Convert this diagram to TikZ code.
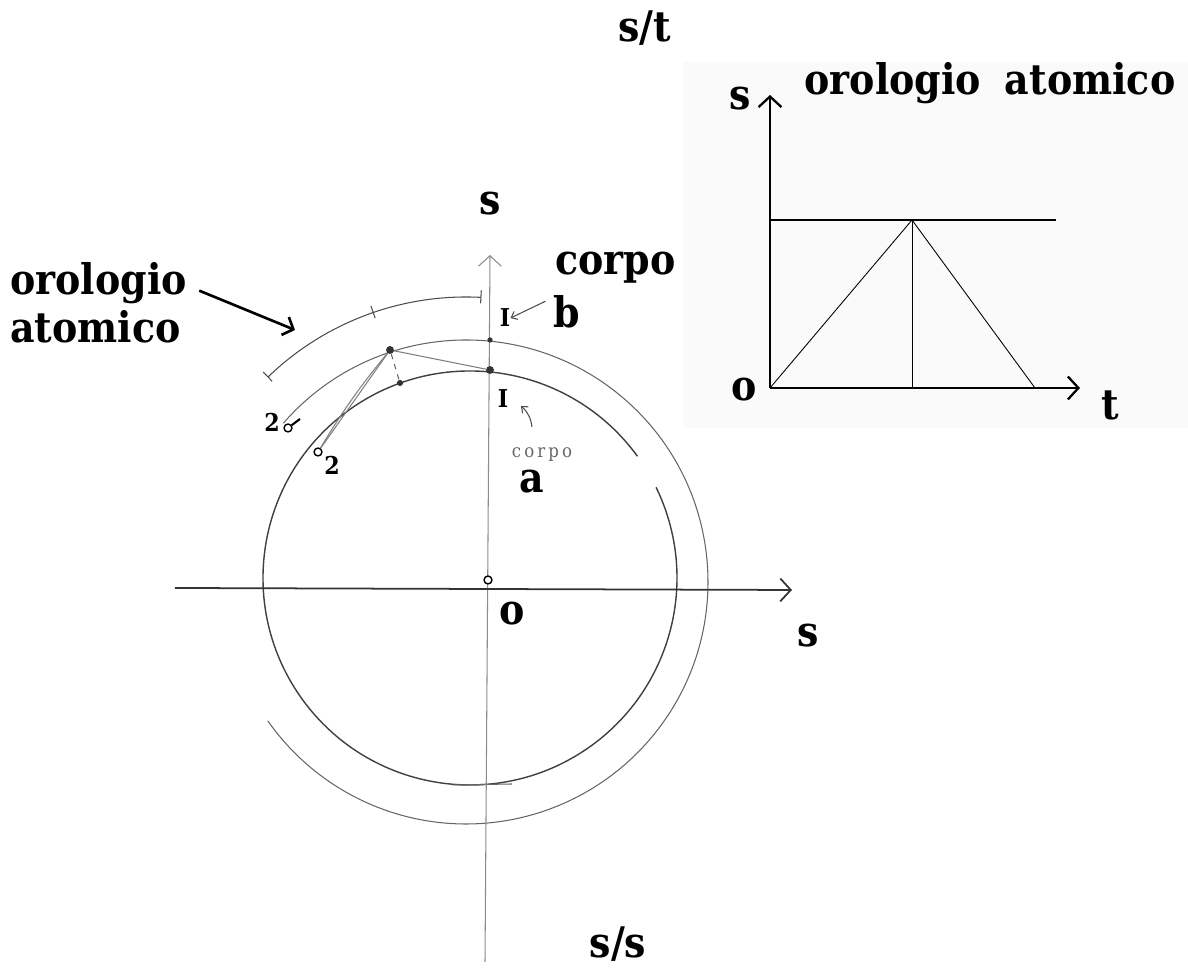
\documentclass[tikz,border=0pt]{standalone}
\usepackage{fontspec}
\setmainfont{DejaVu Serif Condensed}
\usetikzlibrary{arrows.meta}
\usetikzlibrary{positioning}

\begin{document}
\begin{tikzpicture}[x=0.02cm,y=0.02cm,
    pencil/.style={draw=black!60, line width=0.6pt},
    lbl/.style={font=\bfseries\fontsize{24}{26}\selectfont, inner sep=0pt, anchor=base},
    numlbl/.style={font=\bfseries\fontsize{14}{16}\selectfont, inner sep=0pt, anchor=base},
    dot/.style={circle, fill=black!80, inner sep=0pt, minimum size=4.5pt},
    odot/.style={circle, draw=black, line width=0.8pt, fill=white, inner sep=0pt, minimum size=4.5pt},
    barb/.style={-{Straight Barb[length=6pt,width=13pt]}}]
    \useasboundingbox (0,0) rectangle (1188,972);

    % circle diagram
    \coordinate (ci) at (470,394);
    \coordinate (co) at (466,390);
    \draw[pencil, line width=0.8pt, draw=black!75] (ci) ++(36:207) arc[start angle=36, end angle=386, radius=207];
    \draw[pencil] (co) ++(139:242) arc[start angle=139, end angle=-145, radius=242];
    \draw[pencil] (453,187) -- (512,188);
    \draw[pencil, draw=black!70] (co) ++(134:285) arc[start angle=134, end angle=87, radius=285];
    \foreach \a in {134,109,87}
        \draw[pencil, draw=black!70] (co) ++(\a:279) -- ++(\a:13);

    % axes
    \coordinate (vbot) at (485,10);
    \coordinate (vtop) at (490,717);
    \coordinate (hleft) at (175,384);
    \coordinate (hright) at (792,382);
    \draw[pencil, draw=black!45, barb] (vbot) -- (vtop);
    \draw[pencil, line width=1pt, draw=black!80, barb] (hleft) -- (hright);
    \node[odot] (o) at (488,392) {};

    % points
    \node[dot] (p) at (390,622) {};
    \node[dot, minimum size=3pt] (ptop) at (490,632) {};
    \node[dot] (pin) at (490,602) {};
    \node[dot, minimum size=3.5pt] (pmid) at (400,589) {};
    \node[odot] (q2out) at (288,544) {};
    \node[odot] (q2in) at (318,520) {};
    \draw[pencil, draw=black!50] (p) -- (pin);
    \draw[pencil, dashed] (p) -- (pmid);
    \draw[pencil, draw=black!50] (p) -- (q2in);
    \draw[pencil, draw=black!50] (p) to[bend right=4] (q2in);
    \draw[line width=1.2pt] (q2out) -- ++(12,9);

    % labels of the circle diagram
    \node[numlbl] (l2out) at (272,540) {2};
    \node[numlbl] (l2in) at (332,497) {2};
    \node[numlbl] (ib) at (505,645) {I};
    \node[numlbl] (ia) at (503,564) {I};
    \node[lbl] (lb) at (567,644) {b};
    \node[lbl] (la) at (532,479) {a};
    \node[lbl, anchor=base west] (corpob) at (555,697) {corpo};
    \node[inner sep=0pt, anchor=base, text=black!60, font=\fontsize{10.5}{12}\selectfont] (corpoa) at (542,514) {c\,o\,r\,p\,o};
    \draw[pencil, draw=black!70, -{Straight Barb[length=3pt,width=5pt]}] (lb.west) ++(-8,11) -- (ib.east);
    \draw[pencil, draw=black!70, -{Straight Barb[length=3pt,width=5pt]}] (532,545) to[bend right=20] (521,566);
    \node[lbl] (sv) at (490,757) {s};
    \node[lbl] (sh) at (808,325) {s};
    \node[lbl] (lo) at (512,347) {o};
    \node[lbl] (sst) at (645,930) {s/t};
    \node[lbl] (sss) at (618,14) {s/s};
    \node[lbl, anchor=base west] (clk1) at (10,677) {orologio};
    \node[lbl, anchor=base west] (clk2) at (10,629) {atomico};
    \coordinate (arctip) at (295,642);
    \draw[line width=1.5pt, -{Straight Barb[length=5pt,width=11pt]}] (clk1.east) ++(12,-7) -- (arctip);

    % s-t graph
    \fill[black!2] (683,544) rectangle (1188,910);
    \coordinate (g0) at (770,584);
    \coordinate (gy) at (770,877);
    \coordinate (gx) at (1080,584);
    \coordinate (gpk) at (912,752);
    \coordinate (gft) at (1035,584);
    \draw[line width=1.3pt, barb] (g0) -- (gy);
    \draw[line width=1.3pt, barb] (g0) -- (gx);
    \draw[line width=1.3pt] (770,752) -- (1056,752);
    \draw[line width=0.5pt] (g0) -- (gpk) -- (gft);
    \draw[line width=0.5pt] (gpk) -- (g0 -| gpk);
    \node[lbl] (gs) at (740,862) {s};
    \node[lbl] (go) at (744,571) {o};
    \node[lbl] (gt) at (1110,552) {t};
    \node[lbl] (gtitle) at (990,877) {orologio\hspace{0.25em} atomico};
\end{tikzpicture}
\end{document}
